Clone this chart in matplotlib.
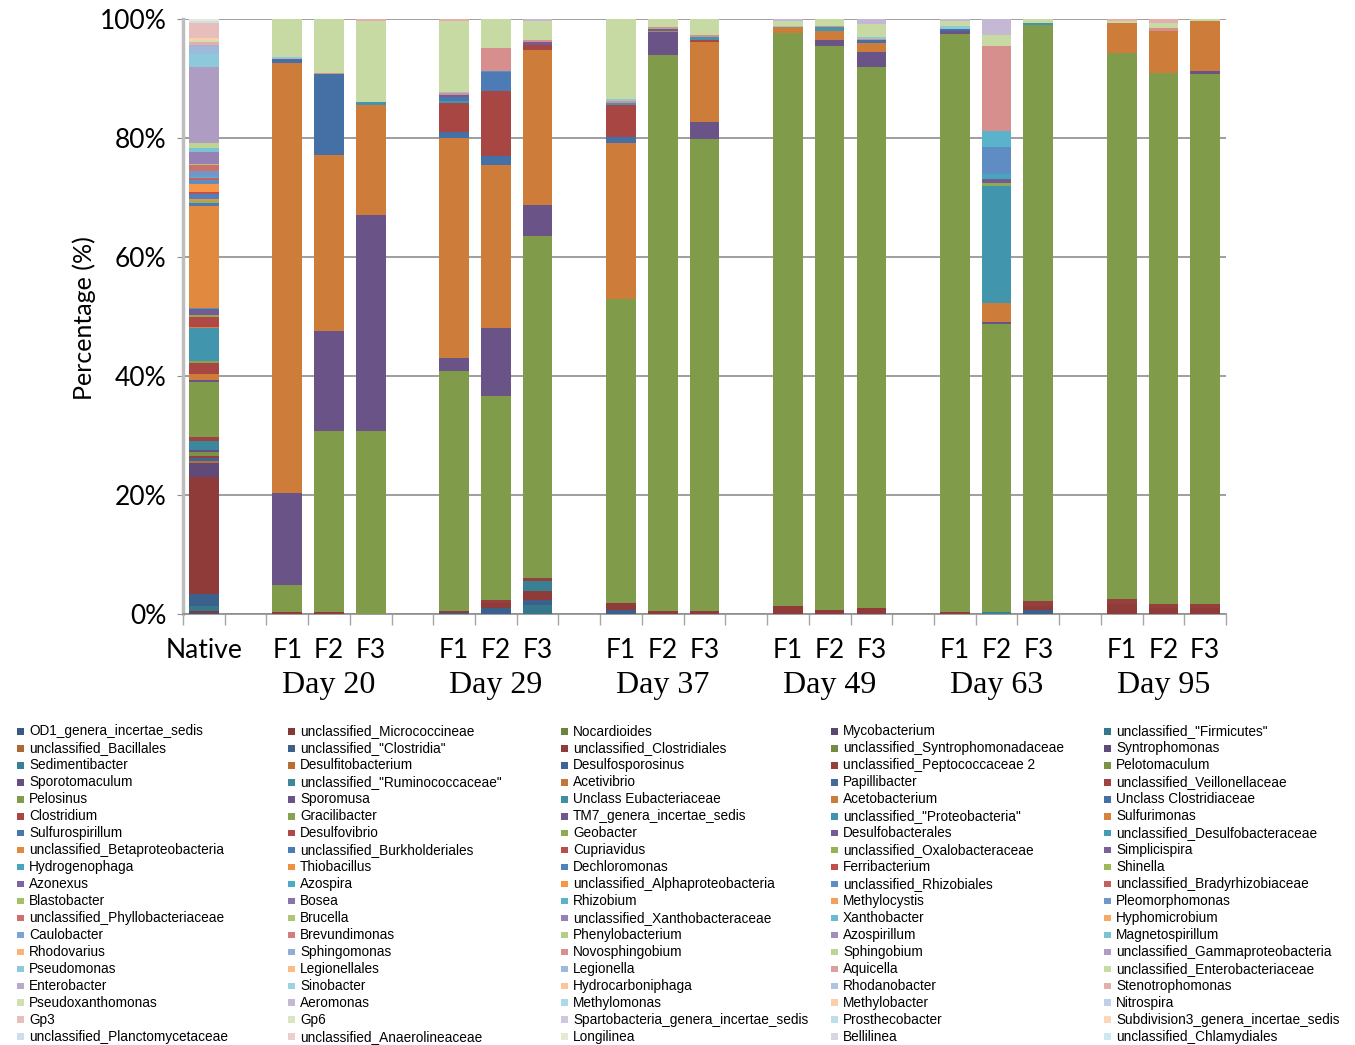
import matplotlib
matplotlib.use("Agg")
import matplotlib.pyplot as plt
from matplotlib.colors import to_rgb
from matplotlib.patches import Rectangle
import numpy as np

# ---------------------------------------------------------------- data
taxa = [
    'OD1_genera_incertae_sedis', 'unclassified_Micrococcineae', 'Nocardioides', 'Mycobacterium', 'unclassified_"Firmicutes"',
    'unclassified_Bacillales', 'unclassified_"Clostridia"', 'unclassified_Clostridiales', 'unclassified_Syntrophomonadaceae', 'Syntrophomonas',
    'Sedimentibacter', 'Desulfitobacterium', 'Desulfosporosinus', 'unclassified_Peptococcaceae 2', 'Pelotomaculum',
    'Sporotomaculum', 'unclassified_"Ruminococcaceae"', 'Acetivibrio', 'Papillibacter', 'unclassified_Veillonellaceae',
    'Pelosinus', 'Sporomusa', 'Unclass Eubacteriaceae', 'Acetobacterium', 'Unclass Clostridiaceae',
    'Clostridium', 'Gracilibacter', 'TM7_genera_incertae_sedis', 'unclassified_"Proteobacteria"', 'Sulfurimonas',
    'Sulfurospirillum', 'Desulfovibrio', 'Geobacter', 'Desulfobacterales', 'unclassified_Desulfobacteraceae',
    'unclassified_Betaproteobacteria', 'unclassified_Burkholderiales', 'Cupriavidus', 'unclassified_Oxalobacteraceae', 'Simplicispira',
    'Hydrogenophaga', 'Thiobacillus', 'Dechloromonas', 'Ferribacterium', 'Shinella',
    'Azonexus', 'Azospira', 'unclassified_Alphaproteobacteria', 'unclassified_Rhizobiales', 'unclassified_Bradyrhizobiaceae',
    'Blastobacter', 'Bosea', 'Rhizobium', 'Methylocystis', 'Pleomorphomonas',
    'unclassified_Phyllobacteriaceae', 'Brucella', 'unclassified_Xanthobacteraceae', 'Xanthobacter', 'Hyphomicrobium',
    'Caulobacter', 'Brevundimonas', 'Phenylobacterium', 'Azospirillum', 'Magnetospirillum',
    'Rhodovarius', 'Sphingomonas', 'Novosphingobium', 'Sphingobium', 'unclassified_Gammaproteobacteria',
    'Pseudomonas', 'Legionellales', 'Legionella', 'Aquicella', 'unclassified_Enterobacteriaceae',
    'Enterobacter', 'Sinobacter', 'Hydrocarboniphaga', 'Rhodanobacter', 'Stenotrophomonas',
    'Pseudoxanthomonas', 'Aeromonas', 'Methylomonas', 'Methylobacter', 'Nitrospira',
    'Gp3', 'Gp6', 'Spartobacteria_genera_incertae_sedis', 'Prosthecobacter', 'Subdivision3_genera_incertae_sedis',
    'unclassified_Planctomycetaceae', 'unclassified_Anaerolineaceae', 'Longilinea', 'Bellilinea', 'unclassified_Chlamydiales',
]

# relative abundance (%) per sample; taxa not listed are 0
native = {
    'OD1_genera_incertae_sedis': 0.1, 'unclassified_Micrococcineae': 0.4, 'unclassified_"Firmicutes"': 0.8,
    'unclassified_"Clostridia"': 2.1, 'unclassified_Clostridiales': 19.6, 'Syntrophomonas': 2.4,
    'Desulfitobacterium': 0.3, 'Desulfosporosinus': 0.6, 'unclassified_Peptococcaceae 2': 0.3,
    'Pelotomaculum': 0.6, 'Sporotomaculum': 0.4, 'unclassified_"Ruminococcaceae"': 1.4,
    'unclassified_Veillonellaceae': 0.7, 'Pelosinus': 9.3, 'Sporomusa': 0.3, 'Acetobacterium': 1.0,
    'Clostridium': 1.9, 'Gracilibacter': 0.3, 'unclassified_"Proteobacteria"': 5.6, 'Sulfurimonas': 0.2,
    'Desulfovibrio': 1.7, 'Geobacter': 0.3, 'Desulfobacterales': 1.0, 'unclassified_Desulfobacteraceae': 0.2,
    'unclassified_Betaproteobacteria': 17.0, 'unclassified_Burkholderiales': 0.6,
    'unclassified_Oxalobacteraceae': 0.3, 'Thiobacillus': 0.3, 'Dechloromonas': 0.9, 'Ferribacterium': 0.3,
    'unclassified_Alphaproteobacteria': 1.4, 'unclassified_Rhizobiales': 0.6,
    'unclassified_Bradyrhizobiaceae': 0.3, 'Rhizobium': 0.3, 'Pleomorphomonas': 1.0,
    'unclassified_Phyllobacteriaceae': 1.0, 'Brucella': 0.2, 'unclassified_Xanthobacteraceae': 2.0,
    'Magnetospirillum': 0.7, 'Sphingobium': 0.7, 'unclassified_Gammaproteobacteria': 12.9,
    'Pseudomonas': 2.2, 'Legionella': 1.3, 'Enterobacter': 0.2, 'Stenotrophomonas': 0.4,
    'Pseudoxanthomonas': 0.4, 'Methylobacter': 0.3, 'Gp3': 2.5, 'unclassified_Planctomycetaceae': 0.4,
    'Longilinea': 0.3,
}
d20_f1 = {'unclassified_Clostridiales': 0.3, 'Pelosinus': 4.5, 'Sporomusa': 15.5, 'Acetobacterium': 72.3,
          'Unclass Clostridiaceae': 0.5, 'Desulfobacterales': 0.2, 'Pseudomonas': 0.3,
          'unclassified_Enterobacteriaceae': 6.4}
d20_f2 = {'unclassified_Clostridiales': 0.3, 'Pelosinus': 30.5, 'Sporomusa': 16.7, 'Acetobacterium': 29.7,
          'Unclass Clostridiaceae': 13.5, 'Novosphingobium': 0.3, 'unclassified_Enterobacteriaceae': 9.0}
d20_f3 = {'Pelosinus': 30.8, 'Sporomusa': 36.2, 'Acetobacterium': 18.5, 'unclassified_"Proteobacteria"': 0.5,
          'unclassified_Enterobacteriaceae': 13.6, 'Stenotrophomonas': 0.4}
d29_f1 = {'unclassified_"Clostridia"': 0.2, 'unclassified_Clostridiales': 0.3, 'Pelosinus': 40.3,
          'Sporomusa': 2.2, 'Acetobacterium': 37.0, 'Unclass Clostridiaceae': 1.0, 'Clostridium': 4.9,
          'unclassified_"Proteobacteria"': 0.4, 'Sulfurospirillum': 0.6, 'Desulfobacterales': 0.3,
          'Novosphingobium': 0.4, 'Pseudomonas': 0.1, 'unclassified_Enterobacteriaceae': 12.0,
          'Stenotrophomonas': 0.3}
d29_f2 = {'unclassified_"Clostridia"': 1.0, 'unclassified_Clostridiales': 0.8, 'unclassified_Peptococcaceae 2': 0.5,
          'Pelosinus': 34.3, 'Sporomusa': 11.4, 'Acetobacterium': 27.5, 'Unclass Clostridiaceae': 1.5,
          'Clostridium': 10.9, 'unclassified_Burkholderiales': 3.2, 'unclassified_Rhizobiales': 0.2,
          'Novosphingobium': 3.8, 'unclassified_Enterobacteriaceae': 4.9}
d29_f3 = {'unclassified_"Firmicutes"': 1.5, 'unclassified_"Clostridia"': 0.8, 'unclassified_Clostridiales': 1.6,
          'Sedimentibacter': 1.7, 'unclassified_Peptococcaceae 2': 0.4, 'Pelosinus': 57.6, 'Sporomusa': 5.2,
          'Acetobacterium': 26.0, 'Clostridium': 0.9, 'Desulfobacterales': 0.4, 'Novosphingobium': 0.3,
          'unclassified_Enterobacteriaceae': 3.2, 'Aeromonas': 0.4}
d37_f1 = {'unclassified_"Clostridia"': 0.7, 'unclassified_Clostridiales': 1.1, 'Pelosinus': 51.1,
          'Acetobacterium': 26.3, 'Unclass Clostridiaceae': 0.9, 'Clostridium': 5.4,
          'unclassified_"Proteobacteria"': 0.4, 'Novosphingobium': 0.3, 'Pseudomonas': 0.3,
          'unclassified_Enterobacteriaceae': 13.5}
d37_f2 = {'unclassified_Clostridiales': 0.5, 'Pelosinus': 93.4, 'Sporomusa': 3.9, 'Acetobacterium': 0.2,
          'Unclass Clostridiaceae': 0.3, 'Novosphingobium': 0.3, 'unclassified_Enterobacteriaceae': 1.4}
d37_f3 = {'unclassified_Clostridiales': 0.5, 'Pelosinus': 79.4, 'Sporomusa': 2.8, 'Acetobacterium': 13.4,
          'Clostridium': 0.3, 'unclassified_"Proteobacteria"': 0.6, 'Novosphingobium': 0.3,
          'unclassified_Enterobacteriaceae': 2.7}
d49_f1 = {'unclassified_Clostridiales': 1.3, 'Pelosinus': 96.3, 'Acetobacterium': 1.0, 'Pseudomonas': 0.3,
          'unclassified_Enterobacteriaceae': 0.7, 'Aeromonas': 0.4}
d49_f2 = {'unclassified_Clostridiales': 0.6, 'Pelosinus': 94.8, 'Sporomusa': 1.0, 'Acetobacterium': 1.5,
          'unclassified_"Proteobacteria"': 0.7, 'Novosphingobium': 0.3, 'unclassified_Enterobacteriaceae': 1.1}
d49_f3 = {'unclassified_Clostridiales': 1.0, 'Pelosinus': 90.9, 'Sporomusa': 2.5, 'Acetobacterium': 1.6,
          'Unclass Clostridiaceae': 0.4, 'Novosphingobium': 0.3, 'Pseudomonas': 0.2,
          'unclassified_Enterobacteriaceae': 2.3, 'Aeromonas': 0.8}
d63_f1 = {'unclassified_Clostridiales': 0.4, 'Pelosinus': 97.1, 'Sporomusa': 0.4, 'Unclass Clostridiaceae': 0.5,
          'Pseudomonas': 0.5, 'unclassified_Enterobacteriaceae': 0.7, 'Aeromonas': 0.4}
d63_f2 = {'Sedimentibacter': 0.3, 'Pelosinus': 48.4, 'Sporomusa': 0.4, 'Acetobacterium': 3.1,
          'unclassified_"Proteobacteria"': 19.8, 'Geobacter': 0.4, 'Desulfobacterales': 0.7,
          'Hydrogenophaga': 0.8, 'unclassified_Rhizobiales': 4.6, 'Rhizobium': 2.7, 'Novosphingobium': 14.3,
          'unclassified_Enterobacteriaceae': 1.8, 'Aeromonas': 2.7}
d63_f3 = {'unclassified_"Clostridia"': 0.6, 'unclassified_Clostridiales': 0.8, 'unclassified_Peptococcaceae 2': 0.8,
          'Pelosinus': 96.8, 'unclassified_"Proteobacteria"': 0.35, 'unclassified_Enterobacteriaceae': 0.65}
d95_f1 = {'unclassified_Clostridiales': 1.7, 'unclassified_Peptococcaceae 2': 0.8, 'Pelosinus': 91.8,
          'Acetobacterium': 5.0, 'unclassified_Enterobacteriaceae': 0.4, 'Stenotrophomonas': 0.3}
d95_f2 = {'unclassified_Clostridiales': 1.0, 'unclassified_Peptococcaceae 2': 0.6, 'Pelosinus': 89.3,
          'Acetobacterium': 7.1, 'Novosphingobium': 0.5, 'unclassified_Enterobacteriaceae': 0.9,
          'Stenotrophomonas': 0.6}
d95_f3 = {'unclassified_Clostridiales': 1.0, 'unclassified_Peptococcaceae 2': 0.6, 'Pelosinus': 89.2,
          'Sporomusa': 0.5, 'Acetobacterium': 8.4, 'unclassified_Enterobacteriaceae': 0.3}

samples = [native,
           d20_f1, d20_f2, d20_f3, d29_f1, d29_f2, d29_f3, d37_f1, d37_f2, d37_f3,
           d49_f1, d49_f2, d49_f3, d63_f1, d63_f2, d63_f3, d95_f1, d95_f2, d95_f3]
sample_labels = ['Native'] + ['F1', 'F2', 'F3'] * 6
group_labels = ['Day 20', 'Day 29', 'Day 37', 'Day 49', 'Day 63', 'Day 95']

# category slots: Native, gap, then three fractions per day separated by gaps
positions = [0] + [2 + 4 * g + k for g in range(6) for k in range(3)]

# ---------------------------------------------------------------- colours
accents = ['#4F81BD', '#C0504D', '#9BBB59', '#8064A2', '#4BACC6', '#F79646']
n_rounds = (len(taxa) + 5) // 6


def series_color(i):
    base = np.array(to_rgb(accents[i % 6]))
    r = i // 6
    if r <= 7:
        return tuple(base * (1 - 0.30 * (7 - r) / 7))
    t = 0.72 * (r - 7) / (n_rounds - 1 - 7)
    return tuple(base + (1 - base) * t)


# ---------------------------------------------------------------- figure
W, H = 1355, 1045
fig = plt.figure(figsize=(W / 100, H / 100), dpi=100)
ax = fig.add_axes([183 / W, 1 - 614 / H, (1226 - 183) / W, (614 - 19) / H])

bottoms = np.zeros(len(samples))
for i, name in enumerate(taxa):
    vals = np.array([s.get(name, 0.0) for s in samples])
    if vals.any():
        ax.bar(positions, vals, bottom=bottoms, width=0.71, color=series_color(i),
               linewidth=0, zorder=3)
    bottoms += vals

ax.set_xlim(-0.5, 24.5)
ax.set_ylim(0, 100)

grid_col = '#8E8E8E'
ax.set_yticks(range(0, 101, 20))
ax.set_yticklabels([f'{v}%' for v in range(0, 101, 20)], fontsize=19, family='Lato')
ax.yaxis.grid(True, color=grid_col, linewidth=1.2, zorder=0)
ax.set_axisbelow(True)
ax.tick_params(axis='y', length=4, color=grid_col, pad=8)

for side in ('top', 'right'):
    ax.spines[side].set_visible(False)
ax.spines['left'].set_color('#BDBDBD')
ax.spines['left'].set_linewidth(2.5)
ax.spines['bottom'].set_color(grid_col)
ax.spines['bottom'].set_linewidth(1.2)

# category ticks sit between slots
ax.set_xticks([])
ax.set_xticks(np.arange(-0.5, 25, 1.0), minor=True)
ax.tick_params(axis='x', which='minor', length=8, width=1.0, color='#A6A6A6', direction='out')
ax.tick_params(axis='x', which='major', length=0)

xt = ax.get_xaxis_transform()
for p, lab in zip(positions, sample_labels):
    ax.text(p, -0.062, lab, transform=xt, ha='center', va='center', fontsize=19, family='Lato')
for g, lab in enumerate(group_labels):
    ax.text(3 + 4 * g, -0.121, lab, transform=xt, ha='center', va='center', fontsize=23,
            family='Liberation Serif')

fig.text(84 / W, 1 - 318 / H, 'Percentage (%)', rotation=90, ha='center', va='center',
         fontsize=18, family='Lato')

# ---------------------------------------------------------------- legend (row-major, 5 columns)
sq_x = [17, 288, 561, 831, 1104]
tx_x = [29, 300, 573, 843, 1116]
row0, row_step, sq = 731.5, 16.95, 6.5
for i, name in enumerate(taxa):
    r, c = divmod(i, 5)
    yc = row0 + r * row_step
    fig.add_artist(Rectangle((sq_x[c] / W, 1 - (yc + sq / 2) / H), sq / W, sq / H,
                             transform=fig.transFigure, facecolor=series_color(i),
                             edgecolor='none'))
    fig.text(tx_x[c] / W, 1 - yc / H, name, ha='left', va='center', fontsize=9.8,
             family='Liberation Sans')

fig.savefig('out.png', dpi=100)
